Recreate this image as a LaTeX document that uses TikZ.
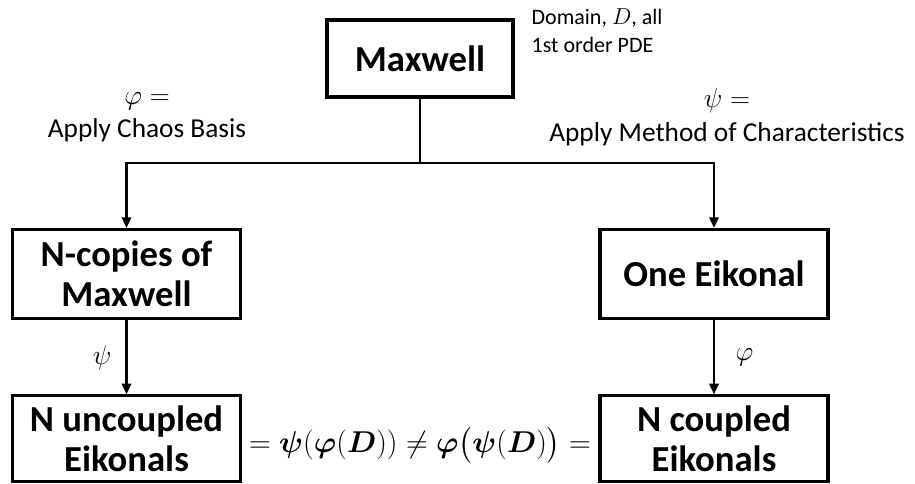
\documentclass[tikz,border=0pt]{standalone}
\usepackage{amsmath}
\usepackage{bm}
\usepackage{graphicx}
\usepackage{fontspec}
\setmainfont{Carlito}
\usetikzlibrary{arrows.meta}

\tikzset{
  blockbox/.style={draw, line width=2.3pt, align=center, inner sep=0pt,
    font=\bfseries\fontsize{27.5}{30}\selectfont},
  wire/.style={line width=1.8pt},
  wirearrow/.style={wire, -{Triangle[length=8pt,width=7pt]}},
  smalltext/.style={align=center, font=\fontsize{20.5}{25}\selectfont}
}

\begin{document}
\begin{tikzpicture}[x=0.75pt,y=0.75pt,yscale=-1]
\useasboundingbox (0,0) rectangle (915,484);

%Shape: Rectangle [maxwell]
\node [blockbox, minimum width=139.5pt, minimum height=57.75pt] (maxwell) at (420,58.5) {Maxwell};
%Shape: Rectangle [ncopies]
\node [blockbox, minimum width=171pt, minimum height=66.75pt] (ncopies) at (126.5,274) {N-copies of\\Maxwell};
%Shape: Rectangle [oneeik]
\node [blockbox, minimum width=171pt, minimum height=66.75pt] (oneeik) at (714,274) {One Eikonal};
%Shape: Rectangle [uncoup]
\node [blockbox, minimum width=171pt, minimum height=64pt] (uncoup) at (126.5,438.5) {N uncoupled\\Eikonals};
%Shape: Rectangle [coup]
\node [blockbox, minimum width=171pt, minimum height=64pt] (coup) at (714,438.5) {N coupled\\Eikonals};

\coordinate (split) at (420,163);

%Straight Lines
\draw [wire] (maxwell.south) -- (split);
\draw [wirearrow] (split) -| (ncopies.north);
\draw [wirearrow] (split) -| (oneeik.north);
\draw [wirearrow] (ncopies.south) -- node [left=7pt, font=\fontsize{20}{24}\selectfont] (psilab) {$\psi$} (uncoup.north);
\draw [wirearrow] (oneeik.south) -- node [right=12pt, font=\fontsize{20}{24}\selectfont] (philab) {$\varphi$} (coup.north);

% Text Node
\node [anchor=west, align=left, font=\fontsize{16.5}{21}\selectfont] (domain) at (527,31) {Domain, $D$, all\\1st order PDE};
% Text Node
\node [smalltext] (chaos) at (147,117) {$\varphi=$\\Apply Chaos Basis};
% Text Node
\node [smalltext] (charac) at (727,117) {$\psi=$\\Apply Method of Characteristics};
% Text Node
\node [inner sep=0pt, font=\fontsize{22.5}{27}\selectfont] (compare) at (420,445)
  {\scalebox{1.09}{$=\bm{\psi}(\bm{\varphi}(\bm{D}))\neq\bm{\varphi}\bigl(\bm{\psi}(\bm{D})\bigr)=$}};

\end{tikzpicture}
\end{document}
